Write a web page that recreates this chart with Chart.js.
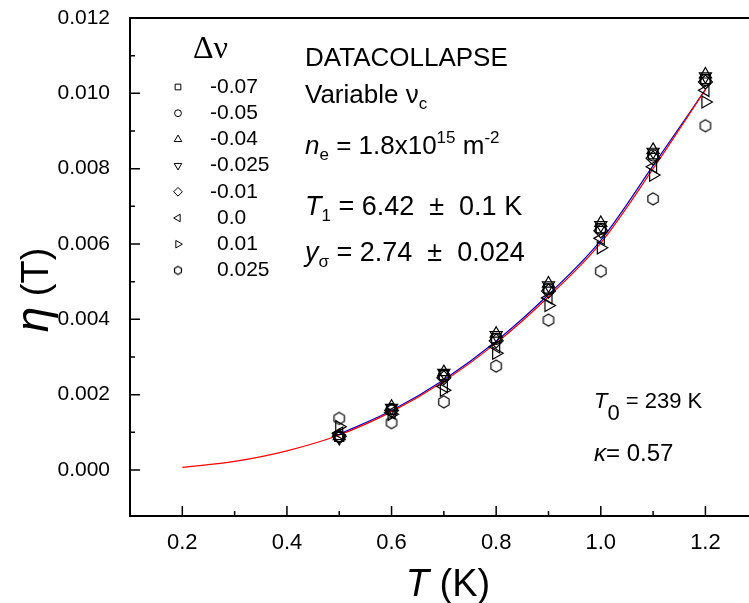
<!DOCTYPE html>
<html lang="en">
<head>
<meta charset="UTF-8" />
<title>eta(T) data collapse</title>
<script src="https://cdn.jsdelivr.net/npm/chart.js"></script>
<style>
  html, body { margin: 0; padding: 0; background: #fff; }
</style>
</head>
<body>
<canvas id="myChart" width="749" height="603"></canvas>
<script>
// temperatures of the measured points (K)
var temps = [0.5, 0.6, 0.7, 0.8, 0.9, 1.0, 1.1, 1.2];

// eta(T) for each filling offset (delta nu)
var etaM007  = [0.00088, 0.00160, 0.00252, 0.00350, 0.00482, 0.00642, 0.00838, 0.01038];
var etaM005  = [0.00088, 0.00162, 0.00250, 0.00348, 0.00480, 0.00640, 0.00835, 0.01035];
var etaM004  = [0.00090, 0.00168, 0.00260, 0.00362, 0.00495, 0.00656, 0.00850, 0.01050];
var etaM0025 = [0.00085, 0.00165, 0.00258, 0.00358, 0.00490, 0.00650, 0.00845, 0.01045];
var etaM001  = [0.00090, 0.00158, 0.00245, 0.00343, 0.00475, 0.00635, 0.00828, 0.01030];
var etaP000  = [0.00098, 0.00152, 0.00222, 0.00327, 0.00457, 0.00615, 0.00805, 0.01008];
var etaP001  = [0.00115, 0.00148, 0.00212, 0.00310, 0.00437, 0.00590, 0.00783, 0.00977];
var etaP0025 = [0.00137, 0.00126, 0.00181, 0.00276, 0.00398, 0.00528, 0.00720, 0.00914];

var nuLabels = ["-0.07", "-0.05", "-0.04", "-0.025", "-0.01", "0.0", "0.01", "0.025"];

// fitted curves
var fitT    = [0.2, 0.3, 0.4, 0.5, 0.6, 0.7, 0.8, 0.9, 1.0, 1.1, 1.2];
var fitRed  = [0.00007, 0.00023, 0.00051, 0.00093, 0.00155, 0.00236, 0.00337, 0.00460, 0.00603, 0.00800, 0.01010];
var fitBlueT = [0.5, 0.6, 0.7, 0.8, 0.9, 1.0, 1.1, 1.2];
var fitBlue  = [0.00095, 0.00158, 0.00240, 0.00342, 0.00466, 0.00610, 0.00808, 0.01010];

// axis ticks
var xTicks = [0.2, 0.4, 0.6, 0.8, 1.0, 1.2];
var xMinor = [0.3, 0.5, 0.7, 0.9, 1.1];
var yTicks = [0.000, 0.002, 0.004, 0.006, 0.008, 0.010, 0.012];
var yMinor = [0.001, 0.003, 0.005, 0.007, 0.009, 0.011];

var SANS = '"Liberation Sans", Arial, sans-serif';
var SERIF = '"Liberation Serif", "Times New Roman", serif';

function hexImage(r) {
  var c = document.createElement("canvas");
  var s = Math.ceil(2 * r + 4);
  c.width = s;
  c.height = s;
  var g = c.getContext("2d");
  g.strokeStyle = "#000";
  g.lineWidth = 1.2;
  g.beginPath();
  for (var i = 0; i < 6; i++) {
    var a = -Math.PI / 2 + i * Math.PI / 3;
    var px = s / 2 + r * Math.cos(a);
    var py = s / 2 + r * Math.sin(a);
    if (i === 0) g.moveTo(px, py); else g.lineTo(px, py);
  }
  g.closePath();
  g.stroke();
  return c;
}

var hexBig = hexImage(6);
var hexSmall = hexImage(4);

// marker style for each series, in legend order
var markers = [
  { style: "rect", rot: 0, r: 6.5 },
  { style: "circle", rot: 0, r: 5.5 },
  { style: "triangle", rot: 0, r: 7 },
  { style: "triangle", rot: 180, r: 7 },
  { style: "rectRot", rot: 0, r: 7 },
  { style: "triangle", rot: -90, r: 7 },
  { style: "triangle", rot: 90, r: 7 },
  { style: hexBig, rot: 0, r: 6 }
];
var series = [etaM007, etaM005, etaM004, etaM0025, etaM001, etaP000, etaP001, etaP0025];

function pts(xs, ys) {
  return xs.map(function (x, i) { return { x: x, y: ys[i] }; });
}

var datasets = series.map(function (s, i) {
  return {
    label: nuLabels[i],
    data: pts(temps, s),
    showLine: false,
    pointStyle: markers[i].style,
    rotation: markers[i].rot,
    pointRadius: markers[i].r,
    pointBorderColor: "#000",
    pointBackgroundColor: "rgba(0,0,0,0)",
    pointBorderWidth: 1.2,
    order: 0
  };
});

datasets.push({
  label: "fit red",
  data: pts(fitT, fitRed),
  showLine: true,
  borderColor: "#ff0000",
  borderWidth: 1.2,
  pointRadius: 0,
  cubicInterpolationMode: "monotone",
  order: 1
});
datasets.push({
  label: "fit blue",
  data: pts(fitBlueT, fitBlue),
  showLine: true,
  borderColor: "#0000cc",
  borderWidth: 1.2,
  pointRadius: 0,
  cubicInterpolationMode: "monotone",
  order: 2
});

function runs(ctx, x, y, parts) {
  parts.forEach(function (p) {
    ctx.font = p.f;
    ctx.fillText(p.t, x, y + (p.dy || 0));
    x += ctx.measureText(p.t).width;
  });
  return x;
}

function runsWidth(ctx, parts) {
  var w = 0;
  parts.forEach(function (p) {
    ctx.font = p.f;
    w += ctx.measureText(p.t).width;
  });
  return w;
}

var framePlugin = {
  id: "frame",
  afterDatasetsDraw: function (chart) {
    var ctx = chart.ctx;
    var a = chart.chartArea;
    var xs = chart.scales.x;
    var ys = chart.scales.y;
    ctx.save();
    ctx.strokeStyle = "#000";
    ctx.lineWidth = 2;
    ctx.beginPath();
    ctx.moveTo(a.right, a.top);
    ctx.lineTo(a.left, a.top);
    ctx.lineTo(a.left, a.bottom);
    ctx.lineTo(a.right, a.bottom);
    ctx.stroke();

    ctx.lineWidth = 1.5;
    ctx.beginPath();
    xTicks.forEach(function (v) {
      var p = xs.getPixelForValue(v);
      ctx.moveTo(p, a.bottom);
      ctx.lineTo(p, a.bottom - 10);
    });
    xMinor.forEach(function (v) {
      var p = xs.getPixelForValue(v);
      ctx.moveTo(p, a.bottom);
      ctx.lineTo(p, a.bottom - 5);
    });
    yTicks.forEach(function (v) {
      var p = ys.getPixelForValue(v);
      ctx.moveTo(a.left, p);
      ctx.lineTo(a.left + 10, p);
    });
    yMinor.forEach(function (v) {
      var p = ys.getPixelForValue(v);
      ctx.moveTo(a.left, p);
      ctx.lineTo(a.left + 5, p);
    });
    ctx.stroke();

    // legend
    ctx.fillStyle = "#000";
    ctx.textBaseline = "alphabetic";
    ctx.font = "32px " + SERIF;
    ctx.fillText("\u0394\u03bd", 193, 58);
    ctx.font = "21px " + SANS;
    var dash = ctx.measureText("-").width;
    nuLabels.forEach(function (lab, i) {
      var cy = 87 + i * 26.2;
      var m = markers[i];
      ctx.save();
      ctx.strokeStyle = "#000";
      ctx.fillStyle = "rgba(0,0,0,0)";
      ctx.lineWidth = 1;
      Chart.helpers.drawPoint(ctx, {
        pointStyle: m.style === hexBig ? hexSmall : m.style,
        rotation: m.rot,
        radius: m.r * 0.62,
        borderWidth: 1
      }, 178, cy);
      ctx.restore();
      ctx.font = "21px " + SANS;
      ctx.textBaseline = "middle";
      ctx.fillText(lab, lab.charAt(0) === "-" ? 210 : 210 + dash, cy);
    });
    ctx.textBaseline = "alphabetic";

    // annotations
    var f26 = "26px " + SANS, f17 = "17px " + SANS, i26 = "italic 26px " + SANS;
    runs(ctx, 305, 66, [{ t: "DATACOLLAPSE", f: f26 }]);
    runs(ctx, 305, 103, [{ t: "Variable \u03bd", f: f26 }, { t: "c", f: f17, dy: 6 }]);
    runs(ctx, 305, 154, [
      { t: "n", f: i26 }, { t: "e", f: f17, dy: 6 }, { t: " = 1.8x10", f: f26 },
      { t: "15", f: f17, dy: -11 }, { t: " m", f: f26 }, { t: "-2", f: f17, dy: -11 }
    ]);
    var f27 = "27px " + SANS, i27 = "italic 27px " + SANS, s17 = "17px " + SANS;
    runs(ctx, 305, 215, [
      { t: "T", f: i27 }, { t: "1", f: s17, dy: 6 }, { t: " = 6.42  \u00b1  0.1 K", f: f27 }
    ]);
    runs(ctx, 305, 261, [
      { t: "y", f: i27 }, { t: "\u03c3", f: s17, dy: 6 }, { t: " = 2.74  \u00b1  0.024", f: f27 }
    ]);
    var f22 = "22px " + SANS, i22 = "italic 22px " + SANS;
    runs(ctx, 594, 408, [
      { t: "T", f: i22 }, { t: "0", f: f22, dy: 12 }, { t: " = 239 K", f: f22 }
    ]);
    var f24 = "24px " + SANS, i24 = "italic 24px " + SANS;
    runs(ctx, 594, 461, [{ t: "\u03ba", f: i24 }, { t: "= 0.57", f: f24 }]);

    // axis titles
    var xt = [{ t: "T", f: "italic 38px " + SANS }, { t: " (K)", f: "38px " + SANS }];
    runs(ctx, 448 - runsWidth(ctx, xt) / 2, 596, xt);
    var yt = [{ t: "\u03b7", f: "italic 46px " + SANS }, { t: " (T)", f: "38px " + SANS }];
    ctx.save();
    ctx.translate(48, 290);
    ctx.rotate(-Math.PI / 2);
    runs(ctx, -runsWidth(ctx, yt) / 2, 0, yt);
    ctx.restore();
    ctx.restore();
  }
};

var ctx = document.getElementById("myChart").getContext("2d");
window.myChart = new Chart(ctx, {
  type: "scatter",
  data: { datasets: datasets },
  options: {
    responsive: false,
    animation: false,
    devicePixelRatio: 1,
    layout: { autoPadding: false, padding: { top: 18, right: 0, left: 0, bottom: 0 } },
    plugins: { legend: { display: false }, tooltip: { enabled: false } },
    scales: {
      x: {
        type: "linear",
        min: 0.1,
        max: 1.2833,
        grid: { display: false },
        border: { display: false },
        afterBuildTicks: function (s) {
          s.ticks = xTicks.map(function (v) { return { value: v }; });
        },
        afterFit: function (s) {
          s.height = 87;
          s.paddingLeft = 0;
          s.paddingRight = 0;
        },
        ticks: {
          autoSkip: false,
          maxRotation: 0,
          padding: 6,
          color: "#000",
          font: { family: SANS, size: 22 },
          callback: function (v) { return Number(v).toFixed(1); }
        }
      },
      y: {
        type: "linear",
        min: -0.00122,
        max: 0.012,
        grid: { display: false },
        border: { display: false },
        afterBuildTicks: function (s) {
          s.ticks = yTicks.map(function (v) { return { value: v }; });
        },
        afterFit: function (s) {
          s.width = 130;
          s.paddingTop = 0;
          s.paddingBottom = 0;
        },
        ticks: {
          autoSkip: false,
          padding: 12,
          color: "#000",
          font: { family: SANS, size: 21 },
          callback: function (v) { return Number(v).toFixed(3); }
        }
      }
    }
  },
  plugins: [framePlugin]
});
</script>
</body>
</html>
